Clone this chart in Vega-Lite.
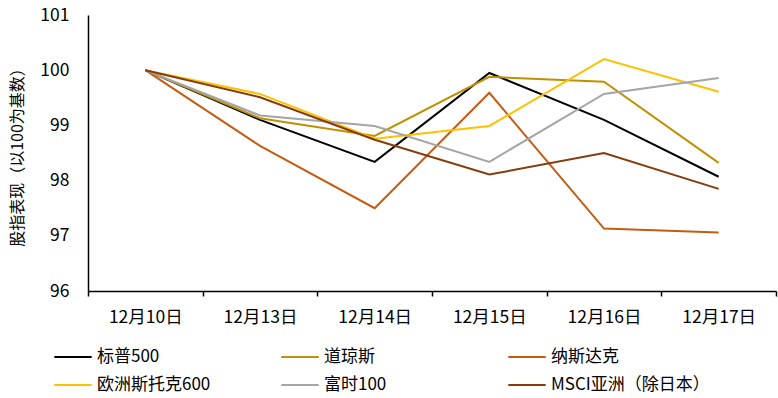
{
  "$schema": "https://vega.github.io/schema/vega-lite/v6.json",
  "autosize": {"type": "none"},
  "width": 688,
  "height": 276,
  "padding": {"left": 88, "top": 15, "right": 2, "bottom": 107},
  "background": "white",
  "config": {
    "font": "Noto Sans CJK SC",
    "view": {"stroke": null}
  },
  "data": {
    "values": [
      {"date": "12月10日", "series": "标普500", "value": 100},
      {"date": "12月13日", "series": "标普500", "value": 99.10},
      {"date": "12月14日", "series": "标普500", "value": 98.34},
      {"date": "12月15日", "series": "标普500", "value": 99.95},
      {"date": "12月16日", "series": "标普500", "value": 99.10},
      {"date": "12月17日", "series": "标普500", "value": 98.07},
      {"date": "12月10日", "series": "道琼斯", "value": 100},
      {"date": "12月13日", "series": "道琼斯", "value": 99.13},
      {"date": "12月14日", "series": "道琼斯", "value": 98.81},
      {"date": "12月15日", "series": "道琼斯", "value": 99.88},
      {"date": "12月16日", "series": "道琼斯", "value": 99.79},
      {"date": "12月17日", "series": "道琼斯", "value": 98.32},
      {"date": "12月10日", "series": "纳斯达克", "value": 100},
      {"date": "12月13日", "series": "纳斯达克", "value": 98.63},
      {"date": "12月14日", "series": "纳斯达克", "value": 97.50},
      {"date": "12月15日", "series": "纳斯达克", "value": 99.59},
      {"date": "12月16日", "series": "纳斯达克", "value": 97.13},
      {"date": "12月17日", "series": "纳斯达克", "value": 97.06},
      {"date": "12月10日", "series": "欧洲斯托克600", "value": 100},
      {"date": "12月13日", "series": "欧洲斯托克600", "value": 99.57},
      {"date": "12月14日", "series": "欧洲斯托克600", "value": 98.76},
      {"date": "12月15日", "series": "欧洲斯托克600", "value": 98.99},
      {"date": "12月16日", "series": "欧洲斯托克600", "value": 100.20},
      {"date": "12月17日", "series": "欧洲斯托克600", "value": 99.61},
      {"date": "12月10日", "series": "富时100", "value": 100},
      {"date": "12月13日", "series": "富时100", "value": 99.18},
      {"date": "12月14日", "series": "富时100", "value": 98.99},
      {"date": "12月15日", "series": "富时100", "value": 98.34},
      {"date": "12月16日", "series": "富时100", "value": 99.57},
      {"date": "12月17日", "series": "富时100", "value": 99.86},
      {"date": "12月10日", "series": "MSCI亚洲（除日本）", "value": 100},
      {"date": "12月13日", "series": "MSCI亚洲（除日本）", "value": 99.51},
      {"date": "12月14日", "series": "MSCI亚洲（除日本）", "value": 98.74},
      {"date": "12月15日", "series": "MSCI亚洲（除日本）", "value": 98.11},
      {"date": "12月16日", "series": "MSCI亚洲（除日本）", "value": 98.50},
      {"date": "12月17日", "series": "MSCI亚洲（除日本）", "value": 97.85}
    ]
  },
  "mark": {"type": "line", "strokeWidth": 2},
  "encoding": {
    "x": {
      "field": "date",
      "type": "ordinal",
      "sort": null,
      "bandPosition": 0.5,
      "scale": {"type": "band", "paddingInner": 0, "paddingOuter": 0},
      "axis": {
        "title": null,
        "labelAngle": 0,
        "labelFontSize": 17.5,
        "labelColor": "black",
        "labelPadding": 12,
        "tickBand": "extent",
        "tickSize": 5,
        "tickColor": "black",
        "tickWidth": 1.5,
        "domainColor": "black",
        "domainWidth": 1.5,
        "grid": false
      }
    },
    "y": {
      "field": "value",
      "type": "quantitative",
      "scale": {"domain": [96, 101], "zero": false, "nice": false},
      "axis": {
        "title": "股指表现（以100为基数）",
        "titleFontSize": 16,
        "titleFontWeight": "normal",
        "titleColor": "black",
        "titlePadding": 14,
        "values": [96, 97, 98, 99, 100, 101],
        "labelFontSize": 17.5,
        "labelColor": "black",
        "labelPadding": 19,
        "ticks": false,
        "domainColor": "black",
        "domainWidth": 1.5,
        "grid": false
      }
    },
    "color": {
      "field": "series",
      "type": "nominal",
      "scale": {
        "domain": ["标普500", "道琼斯", "纳斯达克", "欧洲斯托克600", "富时100", "MSCI亚洲（除日本）"],
        "range": ["#000000", "#BF9000", "#C55A11", "#FFC000", "#A5A5A5", "#843C0C"]
      },
      "legend": {
        "title": null,
        "orient": "none",
        "legendX": -35,
        "legendY": 322,
        "columns": 3,
        "direction": "horizontal",
        "gridAlign": "all",
        "columnPadding": 21,
        "rowPadding": 0,
        "padding": 0,
        "symbolType": "stroke",
        "symbolSize": 1400,
        "symbolStrokeWidth": 2,
        "labelFontSize": 17,
        "labelColor": "black",
        "labelOffset": 4,
        "labelLimit": 400
      }
    }
  }
}
